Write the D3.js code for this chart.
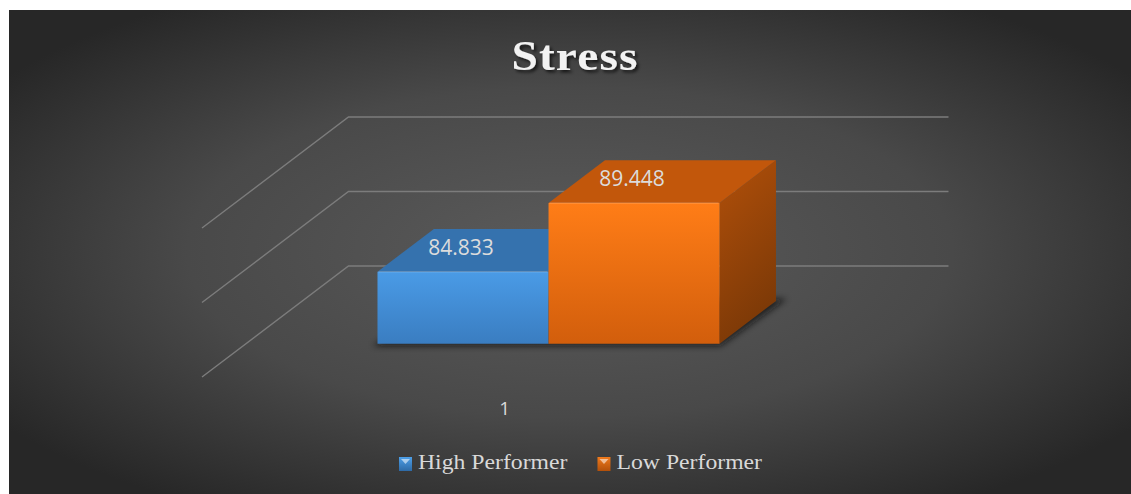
<!DOCTYPE html>
<html>
<head>
<meta charset="utf-8">
<script src="https://cdn.jsdelivr.net/npm/d3@7"></script>
<style>
  html, body { margin: 0; padding: 0; background: #ffffff; }
  svg { display: block; }
</style>
</head>
<body>
<svg id="chart" width="1131" height="494"></svg>
<script>
// ---- data ----
const categories = ["1"];
const seriesNames = ["High Performer", "Low Performer"];
const highValues = [84.833];
const lowValues = [89.448];
const yTicks = [80, 85, 90];
const yDomain = [80, 90];
const titleText = "Stress";

const seriesValues = [highValues, lowValues];

// ---- layout ----
const W = 1131, H = 494;
const floorLeftX = 202, floorFrontY = 377;
const plotWidth = 600, plotHeight = 149;
const depthDX = 146.5, depthDY = -111;
const barZ0 = 0.3, barZ1 = 0.685;
const sx = 1.13; // horizontal stretch of text

const svg = d3.select("#chart");
const defs = svg.append("defs");

// background gradient
const bg = defs.append("radialGradient").attr("id", "bgGrad")
  .attr("cx", "0.5").attr("cy", "0.5").attr("r", "0.62");
bg.append("stop").attr("offset", "0").attr("stop-color", "#5b5b5b");
bg.append("stop").attr("offset", "0.55").attr("stop-color", "#494949");
bg.append("stop").attr("offset", "1").attr("stop-color", "#272727");

function linGrad(id, c0, c1, x2, y2) {
  const g = defs.append("linearGradient").attr("id", id)
    .attr("x1", 0).attr("y1", 0).attr("x2", x2).attr("y2", y2);
  g.append("stop").attr("offset", 0).attr("stop-color", c0);
  g.append("stop").attr("offset", 1).attr("stop-color", c1);
}
const palette = [
  { front: ["#4a9be6", "#3a7dc1"], top: "#3572ae", side: ["#2f6aa3", "#24517e"], mk: ["#4d9fe8", "#2e6aa6"] },
  { front: ["#ff7d17", "#d25e0c"], top: "#c2570b", side: ["#b2500a", "#7c3907"], mk: ["#f07a1c", "#b2500a"] }
];
palette.forEach((p, i) => {
  linGrad("front" + i, p.front[0], p.front[1], 0, 1);
  linGrad("side" + i, p.side[0], p.side[1], 0.3, 1);
  linGrad("mk" + i, p.mk[0], p.mk[1], 0, 1);
});

const shadowF = defs.append("filter").attr("id", "blur")
  .attr("x", "-20%").attr("y", "-20%").attr("width", "140%").attr("height", "140%");
shadowF.append("feGaussianBlur").attr("stdDeviation", 3);

const titleF = defs.append("filter").attr("id", "tshadow")
  .attr("x", "-20%").attr("y", "-30%").attr("width", "140%").attr("height", "160%");
titleF.append("feDropShadow").attr("dx", 2).attr("dy", 2.5).attr("stdDeviation", 1.5)
  .attr("flood-color", "#000").attr("flood-opacity", 0.65);

svg.append("rect").attr("x", 9).attr("y", 10).attr("width", W - 9).attr("height", H - 10)
  .attr("fill", "url(#bgGrad)");

// ---- scales ----
const yScale = d3.scaleLinear().domain(yDomain).range([0, plotHeight]);
const xBand = d3.scaleBand().domain(categories).range([0, plotWidth])
  .paddingInner(0).paddingOuter(0.377).align(0.51);
const sBand = d3.scaleBand().domain(seriesNames).range([0, xBand.bandwidth()]).padding(0);

function P(x, v, z) {
  return [floorLeftX + x + z * depthDX, floorFrontY + z * depthDY - yScale(v)];
}
const line = d3.line();

// ---- gridlines ----
const grid = svg.append("g");
yTicks.forEach(t => {
  grid.append("path").attr("d", line([P(0, t, 0), P(0, t, 1), P(plotWidth, t, 1)]))
    .attr("fill", "none").attr("stroke", "#7c7c7c").attr("stroke-width", 1.4);
});

// ---- bars ----
const base = yDomain[0];
const barsG = svg.append("g");

// shadow under bars
categories.forEach((c, ci) => {
  const x0 = xBand(c), x1 = xBand(c) + xBand.bandwidth();
  barsG.append("path")
    .attr("d", line([P(x0 - 2, base, barZ0 - 0.02), P(x1 + 4, base, barZ0 - 0.02),
                     P(x1 + 8, base, barZ1 + 0.02), P(x0 + 6, base, barZ1 + 0.02)]) + "Z")
    .attr("fill", "#111").attr("opacity", 0.7).attr("filter", "url(#blur)");
});

seriesNames.forEach((s, si) => {
  categories.forEach((c, ci) => {
    const v = seriesValues[si][ci];
    const x0 = xBand(c) + sBand(s), x1 = x0 + sBand.bandwidth();
    const g = barsG.append("g");
    g.append("path")
      .attr("d", line([P(x1, base, barZ0), P(x1, base, barZ1), P(x1, v, barZ1), P(x1, v, barZ0)]) + "Z")
      .attr("fill", "url(#side" + si + ")");
    g.append("path")
      .attr("d", line([P(x0, v, barZ0), P(x1, v, barZ0), P(x1, v, barZ1), P(x0, v, barZ1)]) + "Z")
      .attr("fill", palette[si].top);
    g.append("path")
      .attr("d", line([P(x0, base, barZ0), P(x1, base, barZ0), P(x1, v, barZ0), P(x0, v, barZ0)]) + "Z")
      .attr("fill", "url(#front" + si + ")");
    g.append("path")
      .attr("d", line([P(x0 + 1, v, barZ0), P(x1 - 1, v, barZ0)]))
      .attr("stroke", "#ffffff").attr("stroke-opacity", 0.18).attr("stroke-width", 1.5);
  });
});

// ---- data labels ----
seriesNames.forEach((s, si) => {
  categories.forEach((c, ci) => {
    const v = seriesValues[si][ci];
    const xc = xBand(c) + sBand(s) + sBand.bandwidth() / 2;
    const p = P(xc, v, barZ0);
    svg.append("text").attr("x", p[0] - 2).attr("y", p[1] - 17)
      .attr("text-anchor", "middle")
      .attr("font-family", "'Open Sans', 'DejaVu Sans', sans-serif")
      .attr("font-size", 21).attr("fill", "#dcdcdc")
      .text(d3.format(".3f")(v));
  });
});

// ---- category labels ----
categories.forEach(c => {
  const p = P(xBand(c) + xBand.bandwidth() / 2, base, 0);
  svg.append("text").attr("x", p[0]).attr("y", 415)
    .attr("text-anchor", "middle")
    .attr("font-family", "'Open Sans', 'DejaVu Sans', sans-serif")
    .attr("font-size", 19).attr("fill", "#d9d9d9")
    .text(c);
});

// ---- title ----
svg.append("text")
  .attr("transform", "translate(575,70) scale(" + sx + ",1)")
  .attr("text-anchor", "middle")
  .attr("font-family", "'Liberation Serif', 'Times New Roman', serif")
  .attr("font-weight", "bold").attr("font-size", 42)
  .attr("letter-spacing", 1)
  .attr("fill", "#f2f2f2").attr("filter", "url(#tshadow)")
  .text(titleText);

// ---- legend ----
const legend = svg.append("g");
const items = seriesNames.map((s, i) => {
  const g = legend.append("g");
  g.append("rect").attr("x", 0).attr("y", -12).attr("width", 13).attr("height", 14)
    .attr("fill", "url(#mk" + i + ")");
  g.append("path").attr("d", "M2,-10 L11,-10 L6.5,-5 Z").attr("fill", "#ffffff").attr("opacity", 0.55);
  const t = g.append("text").attr("transform", "translate(19,0) scale(" + sx + ",1)")
    .attr("font-family", "'Liberation Serif', 'Times New Roman', serif")
    .attr("font-size", 21).attr("fill", "#d9d9d9").text(s);
  const w = 19 + t.node().getComputedTextLength() * sx;
  return { g, w };
});
const gap = 30;
const total = d3.sum(items, d => d.w) + gap * (items.length - 1);
let lx = 580.5 - total / 2;
items.forEach(it => {
  it.g.attr("transform", "translate(" + lx + ",469)");
  lx += it.w + gap;
});
</script>
</body>
</html>
